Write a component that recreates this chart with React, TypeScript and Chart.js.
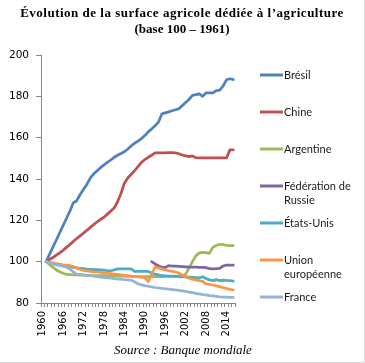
import { useEffect, useRef } from 'react';
import { Chart, registerables } from 'chart.js';

Chart.register(...registerables);

const TITLE_LINES = ['Évolution de la surface agricole dédiée à l’agriculture', '(base 100 – 1961)'];
const SOURCE_TEXT = 'Source : Banque mondiale';

const YEARS: string[] = [];
for (let y = 1960; y <= 2016; y++) YEARS.push(String(y));

const BRESIL = [null,
  100, 103.5, 107, 110.5, 114, 117.5, 121, 124.5, 128.5, 129.5,
  132.5, 135, 137.5, 140.5, 142.5, 144, 145.5, 146.8, 148, 149.2,
  150.5, 151.5, 152.3, 153.2, 154.5, 156, 157.3, 158.3, 159.5, 161,
  162.8, 164.2, 165.8, 167.5, 171.5, 172, 172.5, 173, 173.5, 174,
  175.5, 177, 178.5, 180.5, 180.8, 181.2, 180, 181.7, 181.7, 181.7,
  182.8, 183, 185, 188, 188.5, 188.1];

const CHINE = [null,
  100, 101, 102, 103.2, 104.3, 105.5, 106.9, 108.3, 109.8, 111.2,
  112.5, 113.8, 115.2, 116.6, 118, 119.3, 120.5, 121.5, 123, 124.5,
  126, 129, 133, 138, 140.5, 142.3, 144, 146, 148, 149.4,
  150.5, 151.5, 152.6, 152.7, 152.7, 152.7, 152.8, 152.8, 152.6, 152.2,
  151.6, 151.2, 150.8, 151.2, 150.3, 150.2, 150.2, 150.2, 150.2, 150.2,
  150.2, 150.2, 150.2, 150.2, 154.1, 154.1];

const ARGENTINE = [null,
  100, 98.6, 97.3, 96, 95.1, 94.4, 93.8, 93.7, 93.6, 93.6,
  93.5, 93.5, 93.4, 93.4, 93.3, 93.3, 93.2, 93.2, 93.1, 93.1,
  93.1, 93, 93, 93, 92.9, 92.9, 92.9, 92.8, 92.8, 92.8,
  92.8, 92.8, 92.8, 92.8, 92.8, 92.9, 92.9, 92.9, 93, 93,
  93, 94, 97, 100, 102.8, 104.3, 104.5, 104.4, 104, 107,
  107.8, 108.4, 108.3, 107.9, 107.8, 107.8];

const RUSSIE = [null,
  null, null, null, null, null, null, null, null, null, null,
  null, null, null, null, null, null, null, null, null, null,
  null, null, null, null, null, null, null, null, null, null,
  null, 100, 98.9, 98, 97.3, 97.2, 98.1, 97.9, 97.8, 97.7,
  97.6, 97.5, 97.4, 97.3, 97.3, 97.2, 97.2, 97.1, 96.6, 96.5,
  96.6, 96.8, 97.9, 98.3, 98.3, 98.3];

const ETATS_UNIS = [null,
  100, 99.5, 99, 98.6, 98.3, 98, 97.7, 97.4, 97.2, 97,
  96.8, 96.6, 96.4, 96.3, 96.2, 96.1, 96, 95.9, 95.7, 95.6,
  96, 96.5, 96.5, 96.5, 96.5, 96.5, 95.3, 95.3, 95.3, 95.3,
  95.3, 94.5, 94, 93.6, 93.2, 93.1, 93, 93, 92.9, 92.8,
  92.7, 92.6, 92.5, 92.4, 92.3, 92.2, 92.7, 91.8, 91.2, 90.8,
  91.3, 90.8, 91.1, 90.9, 90.8, 90.6];

const UNION_EUROPEENNE = [null,
  100, 99.7, 99.4, 99.1, 98.8, 98.5, 98.3, 98.1, 97.6, 96.9,
  96.2, 95.8, 95.5, 95.3, 95.1, 95, 94.8, 94.6, 94.4, 94.2,
  94, 93.8, 93.6, 93.4, 93.2, 93, 92.8, 92.6, 92.5, 92.3,
  90.3, 93.8, 97.3, 97, 96.5, 96, 95.6, 95.3, 95, 94.5,
  93.5, 92.7, 92, 91.5, 91.2, 90.8, 90.5, 89.3, 89, 88.7,
  88.3, 87.9, 87.4, 87, 86.6, 86.3];

const FRANCE = [null,
  100, 99.5, 99, 98.6, 98.2, 97.8, 97.3, 96.5, 95, 94,
  93.8, 93.6, 93.4, 93.2, 93, 92.8, 92.5, 92.3, 92.1, 92,
  91.8, 91.6, 91.5, 91.3, 91.2, 91, 90.3, 89.3, 88.8, 88.4,
  88.1, 87.8, 87.5, 87.3, 87.1, 86.9, 86.7, 86.5, 86.3, 86.1,
  85.9, 85.6, 85.3, 85, 84.7, 84.4, 84.1, 83.9, 83.6, 83.4,
  83.2, 83, 82.9, 82.8, 82.7, 82.7];

const SERIES_NAMES = ['Brésil', 'Chine', 'Argentine', 'Fédération de Russie', 'États-Unis', 'Union européenne', 'France'];
const LEGEND_LINES = [['Brésil'], ['Chine'], ['Argentine'], ['Fédération de', 'Russie'], ['États-Unis'], ['Union', 'européenne'], ['France']];
const SERIES_DATA = [BRESIL, CHINE, ARGENTINE, RUSSIE, ETATS_UNIS, UNION_EUROPEENNE, FRANCE];
const COLORS = ['#4F81BD', '#C0504D', '#9BBB59', '#8064A2', '#4BACC6', '#F79646', '#95B3D7'];

const W = 365;
const H = 363;
const AXIS_COLOR = '#868686';

const overlayPlugin = {
  id: 'overlay',
  beforeDraw(chart: any) {
    const ctx = chart.ctx;
    ctx.save();
    ctx.fillStyle = '#ffffff';
    ctx.fillRect(0, 0, W, H);
    ctx.restore();
  },
  afterDraw(chart: any) {
    const ctx = chart.ctx;
    ctx.save();
    // title
    ctx.fillStyle = '#000000';
    ctx.textAlign = 'center';
    ctx.textBaseline = 'middle';
    ctx.font = 'bold 13px "Liberation Serif"';
    (ctx as any).letterSpacing = '0.5px';
    ctx.fillText(TITLE_LINES[0], 182, 14);
    (ctx as any).letterSpacing = '0px';
    ctx.fillText(TITLE_LINES[1], 182, 30);

    // legend
    const itemY = [75, 112, 149, 186, 223, 260, 297];
    ctx.textAlign = 'left';
    ctx.font = '11px Lato';
    for (let i = 0; i < LEGEND_LINES.length; i++) {
      const y = itemY[i];
      ctx.strokeStyle = COLORS[i];
      ctx.lineWidth = 3;
      ctx.beginPath();
      ctx.moveTo(260, y);
      ctx.lineTo(283, y);
      ctx.stroke();
      ctx.fillStyle = '#1a1a1a';
      LEGEND_LINES[i].forEach((t, k) => ctx.fillText(t, 284, y + k * 14.5));
    }

    // source
    ctx.textAlign = 'center';
    ctx.fillStyle = '#000000';
    ctx.font = 'italic 13px "Liberation Serif"';
    ctx.fillText(SOURCE_TEXT, 183, 351);

    // frame
    ctx.strokeStyle = '#d9d9d9';
    ctx.lineWidth = 1;
    ctx.beginPath();
    ctx.moveTo(W - 0.5, 0);
    ctx.lineTo(W - 0.5, H - 0.5);
    ctx.lineTo(0, H - 0.5);
    ctx.stroke();
    ctx.restore();
  },
};

export default function App() {
  const ref = useRef<HTMLCanvasElement | null>(null);

  useEffect(() => {
    const canvas = ref.current;
    if (!canvas) return;
    const chart = new Chart(canvas, {
      type: 'line',
      data: {
        labels: YEARS,
        datasets: SERIES_DATA.map((d, i) => ({
          label: SERIES_NAMES[i],
          data: d,
          borderColor: COLORS[i],
          backgroundColor: COLORS[i],
          borderWidth: 2.75,
          pointRadius: 0,
          pointHoverRadius: 0,
          tension: 0,
          spanGaps: false,
          order: 10 - i,
          borderJoinStyle: 'round',
          borderCapStyle: 'round',
        })),
      },
      options: {
        responsive: false,
        animation: false,
        devicePixelRatio: 1,
        events: [],
        layout: { padding: { top: 55, right: 130, bottom: 0, left: 0 } },
        plugins: {
          legend: { display: false },
          title: { display: false },
          tooltip: { enabled: false },
        },
        scales: {
          x: {
            type: 'category',
            offset: true,
            grid: {
              display: true,
              drawOnChartArea: false,
              drawTicks: true,
              tickLength: 4,
              color: AXIS_COLOR,
              offset: true,
            },
            border: { display: true, color: AXIS_COLOR },
            ticks: {
              autoSkip: false,
              maxRotation: 90,
              minRotation: 90,
              padding: 4,
              color: '#000000',
              font: { family: 'DejaVu Sans', size: 10 },
              callback: (_v: any, i: number) => (i % 6 === 0 ? YEARS[i] : ''),
            },
            afterFit: (s: any) => { s.height = 60; },
          },
          y: {
            min: 80,
            max: 200,
            ticks: {
              stepSize: 20,
              padding: 7,
              color: '#000000',
              font: { family: 'DejaVu Sans', size: 10.5 },
            },
            grid: {
              display: true,
              drawOnChartArea: false,
              drawTicks: true,
              tickLength: 5,
              color: AXIS_COLOR,
            },
            border: { display: true, color: AXIS_COLOR },
            afterFit: (s: any) => { s.width = 41; },
          },
        },
      },
      plugins: [overlayPlugin],
    } as any);
    return () => chart.destroy();
  }, []);

  return (
    <div style={{ position: 'fixed', left: 0, top: 0, width: W, height: H, background: '#fff' }}>
      <canvas ref={ref} width={W} height={H} style={{ width: W, height: H, display: 'block' }} />
    </div>
  );
}
